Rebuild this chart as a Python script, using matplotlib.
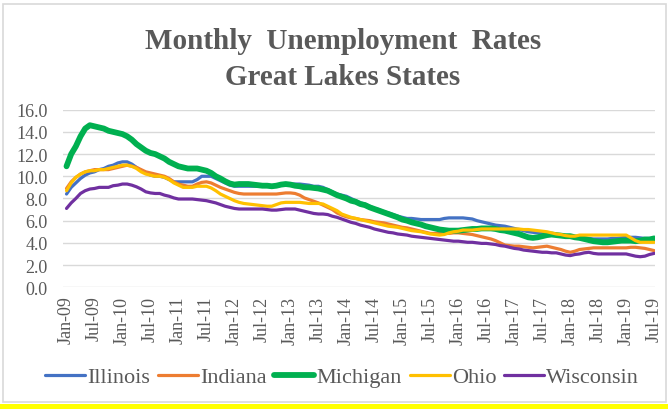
import matplotlib.pyplot as plt
from matplotlib.patches import Rectangle

# monthly rates, Jan-09 .. Jul-19 (127 months)
illinois = [
    8.4, 9.0, 9.4, 9.8, 10.1, 10.3, 10.4, 10.6, 10.7, 10.9, 11.0, 11.2,
    11.3, 11.3, 11.1, 10.8, 10.5, 10.3, 10.1, 10.0, 10.0, 9.9, 9.7, 9.5,
    9.5, 9.5, 9.5, 9.5, 9.7, 10.0, 10.0, 10.0, 9.8, 9.6, 9.4, 9.2,
    9.1, 9.1, 9.1, 9.1, 9.1, 9.1, 9.1, 9.1, 9.1, 9.1, 9.2, 9.3,
    9.3, 9.3, 9.3, 9.25, 9.2, 9.1, 9.1, 9.0, 8.8, 8.6, 8.4, 8.3,
    8.2, 8.0, 7.8, 7.6, 7.5, 7.3, 7.1, 7.0, 6.8, 6.7, 6.55, 6.4,
    6.3, 6.2, 6.2, 6.15, 6.1, 6.1, 6.1, 6.1, 6.1, 6.2, 6.25, 6.25,
    6.25, 6.25, 6.2, 6.15, 6.0, 5.9, 5.8, 5.7, 5.6, 5.55, 5.5, 5.4,
    5.3, 5.2, 5.1, 5.0, 4.95, 4.9, 4.9, 4.85, 4.8, 4.75, 4.7, 4.65,
    4.6, 4.55, 4.5, 4.45, 4.4, 4.35, 4.35, 4.35, 4.35, 4.4, 4.4, 4.45,
    4.5, 4.5, 4.5, 4.45, 4.4, 4.4, 4.4,
]
indiana = [
    8.9, 9.5, 9.9, 10.2, 10.4, 10.5, 10.6, 10.6, 10.6, 10.6, 10.7, 10.8,
    10.9, 11.0, 10.9, 10.8, 10.6, 10.4, 10.3, 10.2, 10.1, 10.0, 9.8, 9.5,
    9.3, 9.2, 9.1, 9.1, 9.3, 9.45, 9.5, 9.4, 9.2, 9.0, 8.85, 8.7,
    8.55, 8.45, 8.4, 8.4, 8.4, 8.4, 8.4, 8.4, 8.4, 8.4, 8.45, 8.5,
    8.5, 8.45, 8.3, 8.05, 7.9, 7.75, 7.6, 7.4, 7.2, 7.0, 6.7, 6.5,
    6.35, 6.25, 6.2, 6.1, 6.05, 6.0, 5.9, 5.85, 5.8, 5.7, 5.6, 5.5,
    5.4, 5.35, 5.25, 5.15, 5.05, 4.95, 4.85, 4.85, 4.85, 4.85, 4.85, 4.9,
    4.9, 4.85, 4.8, 4.75, 4.65, 4.55, 4.45, 4.35, 4.2, 4.0, 3.8, 3.75,
    3.7, 3.7, 3.65, 3.6, 3.55, 3.6, 3.65, 3.7, 3.6, 3.5, 3.4, 3.25,
    3.15, 3.25, 3.4, 3.45, 3.5, 3.55, 3.55, 3.55, 3.55, 3.55, 3.55, 3.55,
    3.55, 3.6, 3.6, 3.55, 3.5, 3.4, 3.3,
]
michigan = [
    10.9, 12.0, 12.7, 13.6, 14.3, 14.6, 14.5, 14.4, 14.3, 14.1, 14.0, 13.9,
    13.8, 13.6, 13.3, 12.9, 12.6, 12.3, 12.1, 12.0, 11.8, 11.6, 11.3, 11.1,
    10.9, 10.8, 10.7, 10.7, 10.7, 10.6, 10.5, 10.3, 10.0, 9.8, 9.55, 9.35,
    9.25, 9.3, 9.3, 9.3, 9.25, 9.2, 9.15, 9.15, 9.1, 9.15, 9.25, 9.3,
    9.25, 9.15, 9.1, 9.0, 9.0, 8.95, 8.9, 8.8, 8.7, 8.5, 8.3, 8.15,
    8.0, 7.8, 7.7, 7.5, 7.4, 7.2, 7.05, 6.9, 6.75, 6.6, 6.45, 6.3,
    6.1, 6.0, 5.85, 5.75, 5.65, 5.5, 5.4, 5.3, 5.2, 5.15, 5.1, 5.1,
    5.1, 5.15, 5.2, 5.25, 5.25, 5.3, 5.3, 5.3, 5.25, 5.15, 5.1, 5.0,
    4.9, 4.8, 4.65, 4.5, 4.45, 4.5, 4.6, 4.7, 4.75, 4.7, 4.65, 4.6,
    4.6, 4.5, 4.45, 4.35, 4.25, 4.15, 4.1, 4.05, 4.05, 4.1, 4.15, 4.2,
    4.2, 4.2, 4.15, 4.2, 4.3, 4.3, 4.4,
]
ohio = [
    8.7, 9.4, 9.9, 10.2, 10.4, 10.5, 10.5, 10.6, 10.6, 10.7, 10.8, 10.9,
    11.0, 11.0, 10.9, 10.7, 10.4, 10.2, 10.1, 10.0, 10.0, 9.9, 9.7, 9.4,
    9.2, 9.0, 9.0, 9.0, 9.1, 9.1, 9.1, 8.95, 8.7, 8.4, 8.2, 8.0,
    7.8, 7.65, 7.55, 7.5, 7.45, 7.4, 7.35, 7.3, 7.3, 7.45, 7.6, 7.65,
    7.65, 7.65, 7.65, 7.6, 7.55, 7.55, 7.55, 7.5, 7.3, 7.1, 6.9, 6.6,
    6.45, 6.3, 6.2, 6.1, 6.0, 5.9, 5.8, 5.7, 5.6, 5.5, 5.45, 5.4,
    5.3, 5.2, 5.1, 5.05, 5.0, 4.9, 4.8, 4.75, 4.7, 4.75, 4.9, 5.0,
    5.05, 5.15, 5.15, 5.15, 5.2, 5.25, 5.25, 5.25, 5.25, 5.25, 5.25, 5.25,
    5.25, 5.25, 5.2, 5.2, 5.15, 5.1, 5.05, 5.0, 4.9, 4.8, 4.75, 4.65,
    4.6, 4.6, 4.7, 4.7, 4.7, 4.7, 4.7, 4.7, 4.7, 4.7, 4.7, 4.7,
    4.7, 4.45, 4.2, 4.05, 4.05, 4.05, 4.05,
]
wisconsin = [
    7.1, 7.6, 8.0, 8.45, 8.7, 8.85, 8.9, 9.0, 9.0, 9.0, 9.15, 9.2,
    9.3, 9.3, 9.2, 9.05, 8.85, 8.6, 8.5, 8.45, 8.45, 8.3, 8.2, 8.05,
    7.95, 7.95, 7.95, 7.95, 7.9, 7.85, 7.8, 7.7, 7.6, 7.45, 7.3, 7.2,
    7.1, 7.05, 7.05, 7.05, 7.05, 7.05, 7.05, 7.0, 6.95, 6.95, 7.0, 7.05,
    7.05, 7.05, 6.95, 6.85, 6.75, 6.65, 6.6, 6.6, 6.55, 6.4, 6.3, 6.15,
    6.0, 5.85, 5.75, 5.6, 5.5, 5.4, 5.25, 5.15, 5.05, 4.95, 4.9, 4.8,
    4.75, 4.7, 4.6, 4.55, 4.5, 4.45, 4.4, 4.35, 4.3, 4.25, 4.2, 4.15,
    4.15, 4.1, 4.05, 4.05, 4.0, 3.95, 3.95, 3.9, 3.85, 3.75, 3.7, 3.6,
    3.5, 3.45, 3.35, 3.3, 3.25, 3.2, 3.15, 3.15, 3.1, 3.1, 3.0, 2.9,
    2.85, 2.95, 3.0, 3.1, 3.15, 3.05, 3.0, 3.0, 3.0, 3.0, 3.0, 3.0,
    3.0, 2.9, 2.8, 2.75, 2.8, 2.95, 3.05,
]

tick_labels = ['Jan-09', 'Jul-09', 'Jan-10', 'Jul-10', 'Jan-11', 'Jul-11',
               'Jan-12', 'Jul-12', 'Jan-13', 'Jul-13', 'Jan-14', 'Jul-14',
               'Jan-15', 'Jul-15', 'Jan-16', 'Jul-16', 'Jan-17', 'Jul-17',
               'Jan-18', 'Jul-18', 'Jan-19', 'Jul-19']

states = ['Illinois', 'Indiana', 'Michigan', 'Ohio', 'Wisconsin']
series = [illinois, indiana, michigan, ohio, wisconsin]
colors = ['#4472C4', '#ED7D31', '#00B050', '#FFC000', '#7030A0']
widths = [2.3, 2.3, 4.2, 2.3, 2.3]

text_col = '#595959'
plt.rcParams['font.family'] = ['Liberation Serif', 'DejaVu Serif']

fig = plt.figure(figsize=(6.68, 4.10), dpi=100)
ax = fig.add_axes([0.094, 0.297, 0.886, 0.433])

for name, vals, c, lw in zip(states, series, colors, widths):
    ax.plot(range(len(vals)), vals, color=c, lw=lw, label=name,
            solid_capstyle='round', solid_joinstyle='round')

ax.set_ylim(0, 16)
ax.set_yticks(range(0, 17, 2))
ax.set_yticklabels(['%.1f' % v for v in range(0, 17, 2)])
ax.set_xlim(-0.8, 126.1)
ax.set_xticks(range(0, 127, 6))
ax.set_xticklabels(tick_labels, rotation=90)
ax.tick_params(length=0, labelsize=13, labelcolor=text_col)
ax.tick_params(axis='y', pad=11)
ax.tick_params(axis='x', pad=6)
ax.grid(axis='y', color='#D9D9D9', lw=1)
ax.set_axisbelow(True)
for s in ax.spines.values():
    s.set_visible(False)

fig.text(0.513, 0.880, 'Monthly  Unemployment  Rates', ha='center', va='baseline',
         fontsize=21, fontweight='bold', color=text_col)
fig.text(0.513, 0.793, 'Great Lakes States', ha='center', va='baseline',
         fontsize=21, fontweight='bold', color=text_col)

leg = fig.legend(loc='center', bbox_to_anchor=(0.512, 0.078), ncol=5, frameon=False,
                 fontsize=16, handlelength=1.8, handletextpad=0.1,
                 columnspacing=0.35, labelcolor=text_col)

# chart border and the yellow strip at the bottom
fig.patches.append(Rectangle((0.005, 0.016), 0.992, 0.972, transform=fig.transFigure,
                             fill=False, edgecolor='#D9D9D9', lw=1.2))
fig.patches.append(Rectangle((0, 0), 1, 0.013, transform=fig.transFigure,
                             facecolor='#FFFF00', edgecolor='none'))

fig.savefig('out.png', dpi=100)
plt.close('all')
